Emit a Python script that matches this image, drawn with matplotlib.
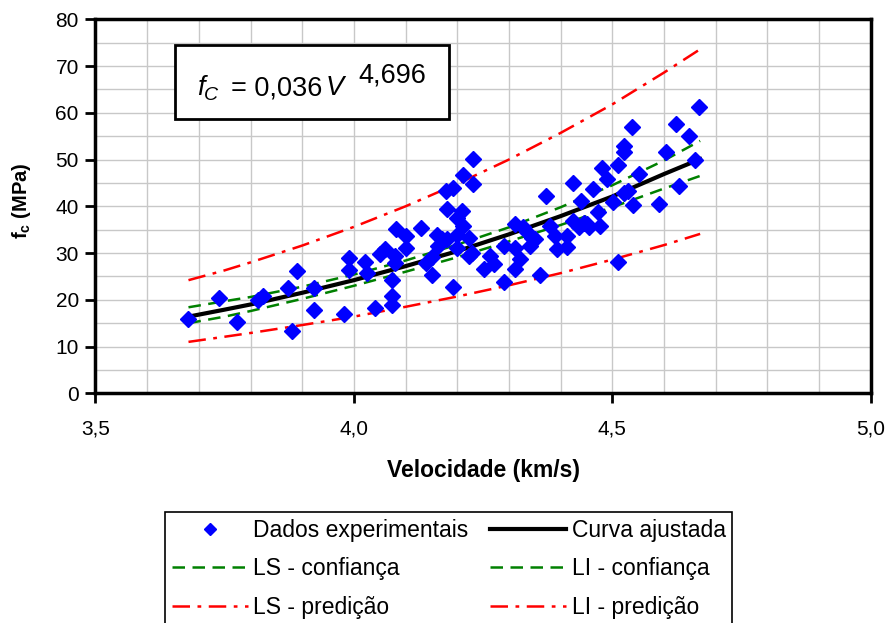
import numpy as np
import matplotlib
matplotlib.use("Agg")
import matplotlib.pyplot as plt
from matplotlib.ticker import MultipleLocator, FixedLocator

plt.rcParams['font.family'] = ['Liberation Sans', 'DejaVu Sans']
plt.rcParams['mathtext.fontset'] = 'custom'
plt.rcParams['mathtext.rm'] = 'Liberation Sans:bold'
plt.rcParams['mathtext.it'] = 'Liberation Sans:italic:bold'
plt.rcParams['mathtext.bf'] = 'Liberation Sans:bold'

# experimental data (velocity km/s, fc MPa)
vel = [3.68, 3.74, 3.773, 3.814, 3.824, 3.873, 3.88, 3.89, 3.922, 3.923,
       3.98, 3.991, 3.991, 4.022, 4.025, 4.04, 4.051, 4.061, 4.073, 4.073,
       4.073, 4.08, 4.08, 4.081, 4.10, 4.10, 4.13, 4.14, 4.151, 4.152,
       4.161, 4.162, 4.17, 4.18, 4.18, 4.179, 4.191, 4.191, 4.20, 4.20,
       4.20, 4.21, 4.212, 4.212, 4.222, 4.223, 4.229, 4.23, 4.23, 4.252,
       4.263, 4.271, 4.29, 4.29, 4.312, 4.312, 4.312, 4.322, 4.328, 4.335,
       4.341, 4.345, 4.351, 4.361, 4.372, 4.38, 4.39, 4.393, 4.412, 4.412,
       4.424, 4.424, 4.435, 4.44, 4.445, 4.451, 4.454, 4.463, 4.473, 4.477,
       4.48, 4.49, 4.501, 4.512, 4.512, 4.522, 4.522, 4.522, 4.53, 4.539,
       4.541, 4.551, 4.591, 4.603, 4.623, 4.63, 4.648, 4.66, 4.667]
fc = [15.9, 20.4, 15.2, 19.9, 20.8, 22.6, 13.3, 26.1, 17.9, 22.6,
      17.0, 28.9, 26.4, 28.0, 25.7, 18.2, 29.8, 30.9, 20.8, 18.9,
      24.3, 29.4, 27.9, 35.1, 33.6, 31.1, 35.3, 27.9, 29.1, 25.4,
      33.8, 31.6, 33.0, 33.0, 39.5, 43.3, 44.0, 22.8, 37.4, 33.9,
      31.1, 39.1, 35.7, 46.6, 29.3, 33.2, 30.1, 50.1, 44.7, 26.6,
      29.4, 27.7, 31.6, 23.9, 31.0, 26.6, 36.2, 28.7, 35.5, 34.4,
      31.6, 33.3, 33.0, 25.2, 42.3, 35.8, 33.7, 30.9, 33.7, 31.2,
      45.0, 36.9, 35.5, 41.1, 36.5, 36.2, 35.6, 43.6, 38.7, 35.8,
      48.1, 45.9, 40.9, 48.9, 28.0, 53.0, 51.6, 42.8, 43.3, 56.9,
      40.2, 47.0, 40.6, 51.6, 57.7, 44.3, 55.0, 49.8, 61.3]

# curves
v_curve = [3.68, 3.75, 3.8, 3.9, 4.0, 4.1, 4.2, 4.3, 4.4, 4.5, 4.6, 4.67]
fit     = [16.4, 17.9, 19.0, 21.5, 24.2, 27.2, 30.4, 34.0, 37.9, 42.1, 46.9, 50.1]
ls_conf = [18.4, 19.7, 20.6, 22.8, 25.4, 28.4, 31.8, 35.5, 39.8, 44.5, 49.8, 54.0]
li_conf = [15.0, 16.4, 17.6, 20.2, 23.0, 26.0, 29.1, 32.5, 36.0, 39.8, 43.8, 46.5]
ls_pred = [24.2, 26.3, 28.0, 31.6, 35.6, 40.0, 44.8, 50.0, 55.7, 61.8, 68.6, 73.6]
li_pred = [11.0, 12.1, 12.9, 14.6, 16.4, 18.5, 20.7, 23.1, 25.7, 28.6, 31.7, 34.1]

fig = plt.figure(figsize=(8.88, 6.23), dpi=100)
ax = fig.add_axes([0.1075, 0.3687, 0.873, 0.6003])

green_dash = (5, 3)
red_dash = (7, 3, 1.5, 3)

h_pts, = ax.plot(vel, fc, 'D', color='#0000FF', markersize=8, lw=0,
                 label='Dados experimentais', zorder=5)
h_fit, = ax.plot(v_curve, fit, color='black', lw=3, label='Curva ajustada', zorder=4)
h_lsc, = ax.plot(v_curve, ls_conf, color='#008000', lw=1.8, dashes=green_dash,
                 label='LS - confiança', zorder=3)
h_lic, = ax.plot(v_curve, li_conf, color='#008000', lw=1.8, dashes=green_dash,
                 label='LI - confiança', zorder=3)
h_lsp, = ax.plot(v_curve, ls_pred, color='#FF0000', lw=1.8, dashes=red_dash,
                 label='LS - predição', zorder=3)
h_lip, = ax.plot(v_curve, li_pred, color='#FF0000', lw=1.8, dashes=red_dash,
                 label='LI - predição', zorder=3)

ax.set_xlim(3.5, 5.0)
ax.set_ylim(0, 80)
ax.xaxis.set_major_locator(FixedLocator([3.5, 4.0, 4.5, 5.0]))
ax.xaxis.set_minor_locator(MultipleLocator(0.1))
ax.yaxis.set_major_locator(MultipleLocator(10))
ax.yaxis.set_minor_locator(MultipleLocator(5))
ax.set_xticklabels(['3,5', '4,0', '4,5', '5,0'])
ax.grid(which='both', color='#C8C8C8', lw=1)
ax.set_axisbelow(True)
ax.tick_params(which='major', direction='out', length=7, width=2, labelsize=15,
               colors='black')
ax.tick_params(which='minor', length=0)
ax.tick_params(axis='x', pad=12)
ax.tick_params(axis='y', pad=5)
for s in ax.spines.values():
    s.set_linewidth(2.5)
    s.set_color('black')

ax.set_xlabel('Velocidade (km/s)', fontsize=16.5, fontweight='bold', va='top')
ax.xaxis.set_label_coords(0.5, -0.175)
ax.set_ylabel(r'f$_{\rm c}$ (MPa)', fontsize=14.5, fontweight='bold')
ax.yaxis.set_label_coords(-0.081, 0.514)

# equation box
ax.add_patch(plt.Rectangle((0.1026, 0.733), 0.3534, 0.198, transform=ax.transAxes,
                           facecolor='white', edgecolor='black', lw=2, zorder=6))
eq_kw = dict(transform=ax.transAxes, va='baseline', ha='left', fontsize=19.5, zorder=7)
ax.text(0.131, 0.797, 'f', style='italic', **eq_kw)
ax.text(0.1395, 0.784, 'C', style='italic', transform=ax.transAxes, va='baseline',
        ha='left', fontsize=14, zorder=7)
ax.text(0.1745, 0.797, '= 0,036', **eq_kw)
ax.text(0.297, 0.797, 'V', style='italic', **eq_kw)
ax.text(0.3386, 0.830, '4,696', **eq_kw)

handles = [h_pts, h_lsc, h_lsp, h_fit, h_lic, h_lip]
leg = fig.legend(handles=handles, labels=[h.get_label() for h in handles],
                 ncol=2, loc='upper left', bbox_to_anchor=(165 / 888, 1 - 512 / 623),
                 fontsize=16.5, frameon=True, fancybox=False, framealpha=1,
                 edgecolor='black', handlelength=3.3, handletextpad=0.25,
                 columnspacing=0.95, labelspacing=0.68, borderpad=0.3,
                 borderaxespad=0, markerscale=0.75)
leg.get_frame().set_linewidth(1.2)

fig.savefig('out.png', dpi=100)
